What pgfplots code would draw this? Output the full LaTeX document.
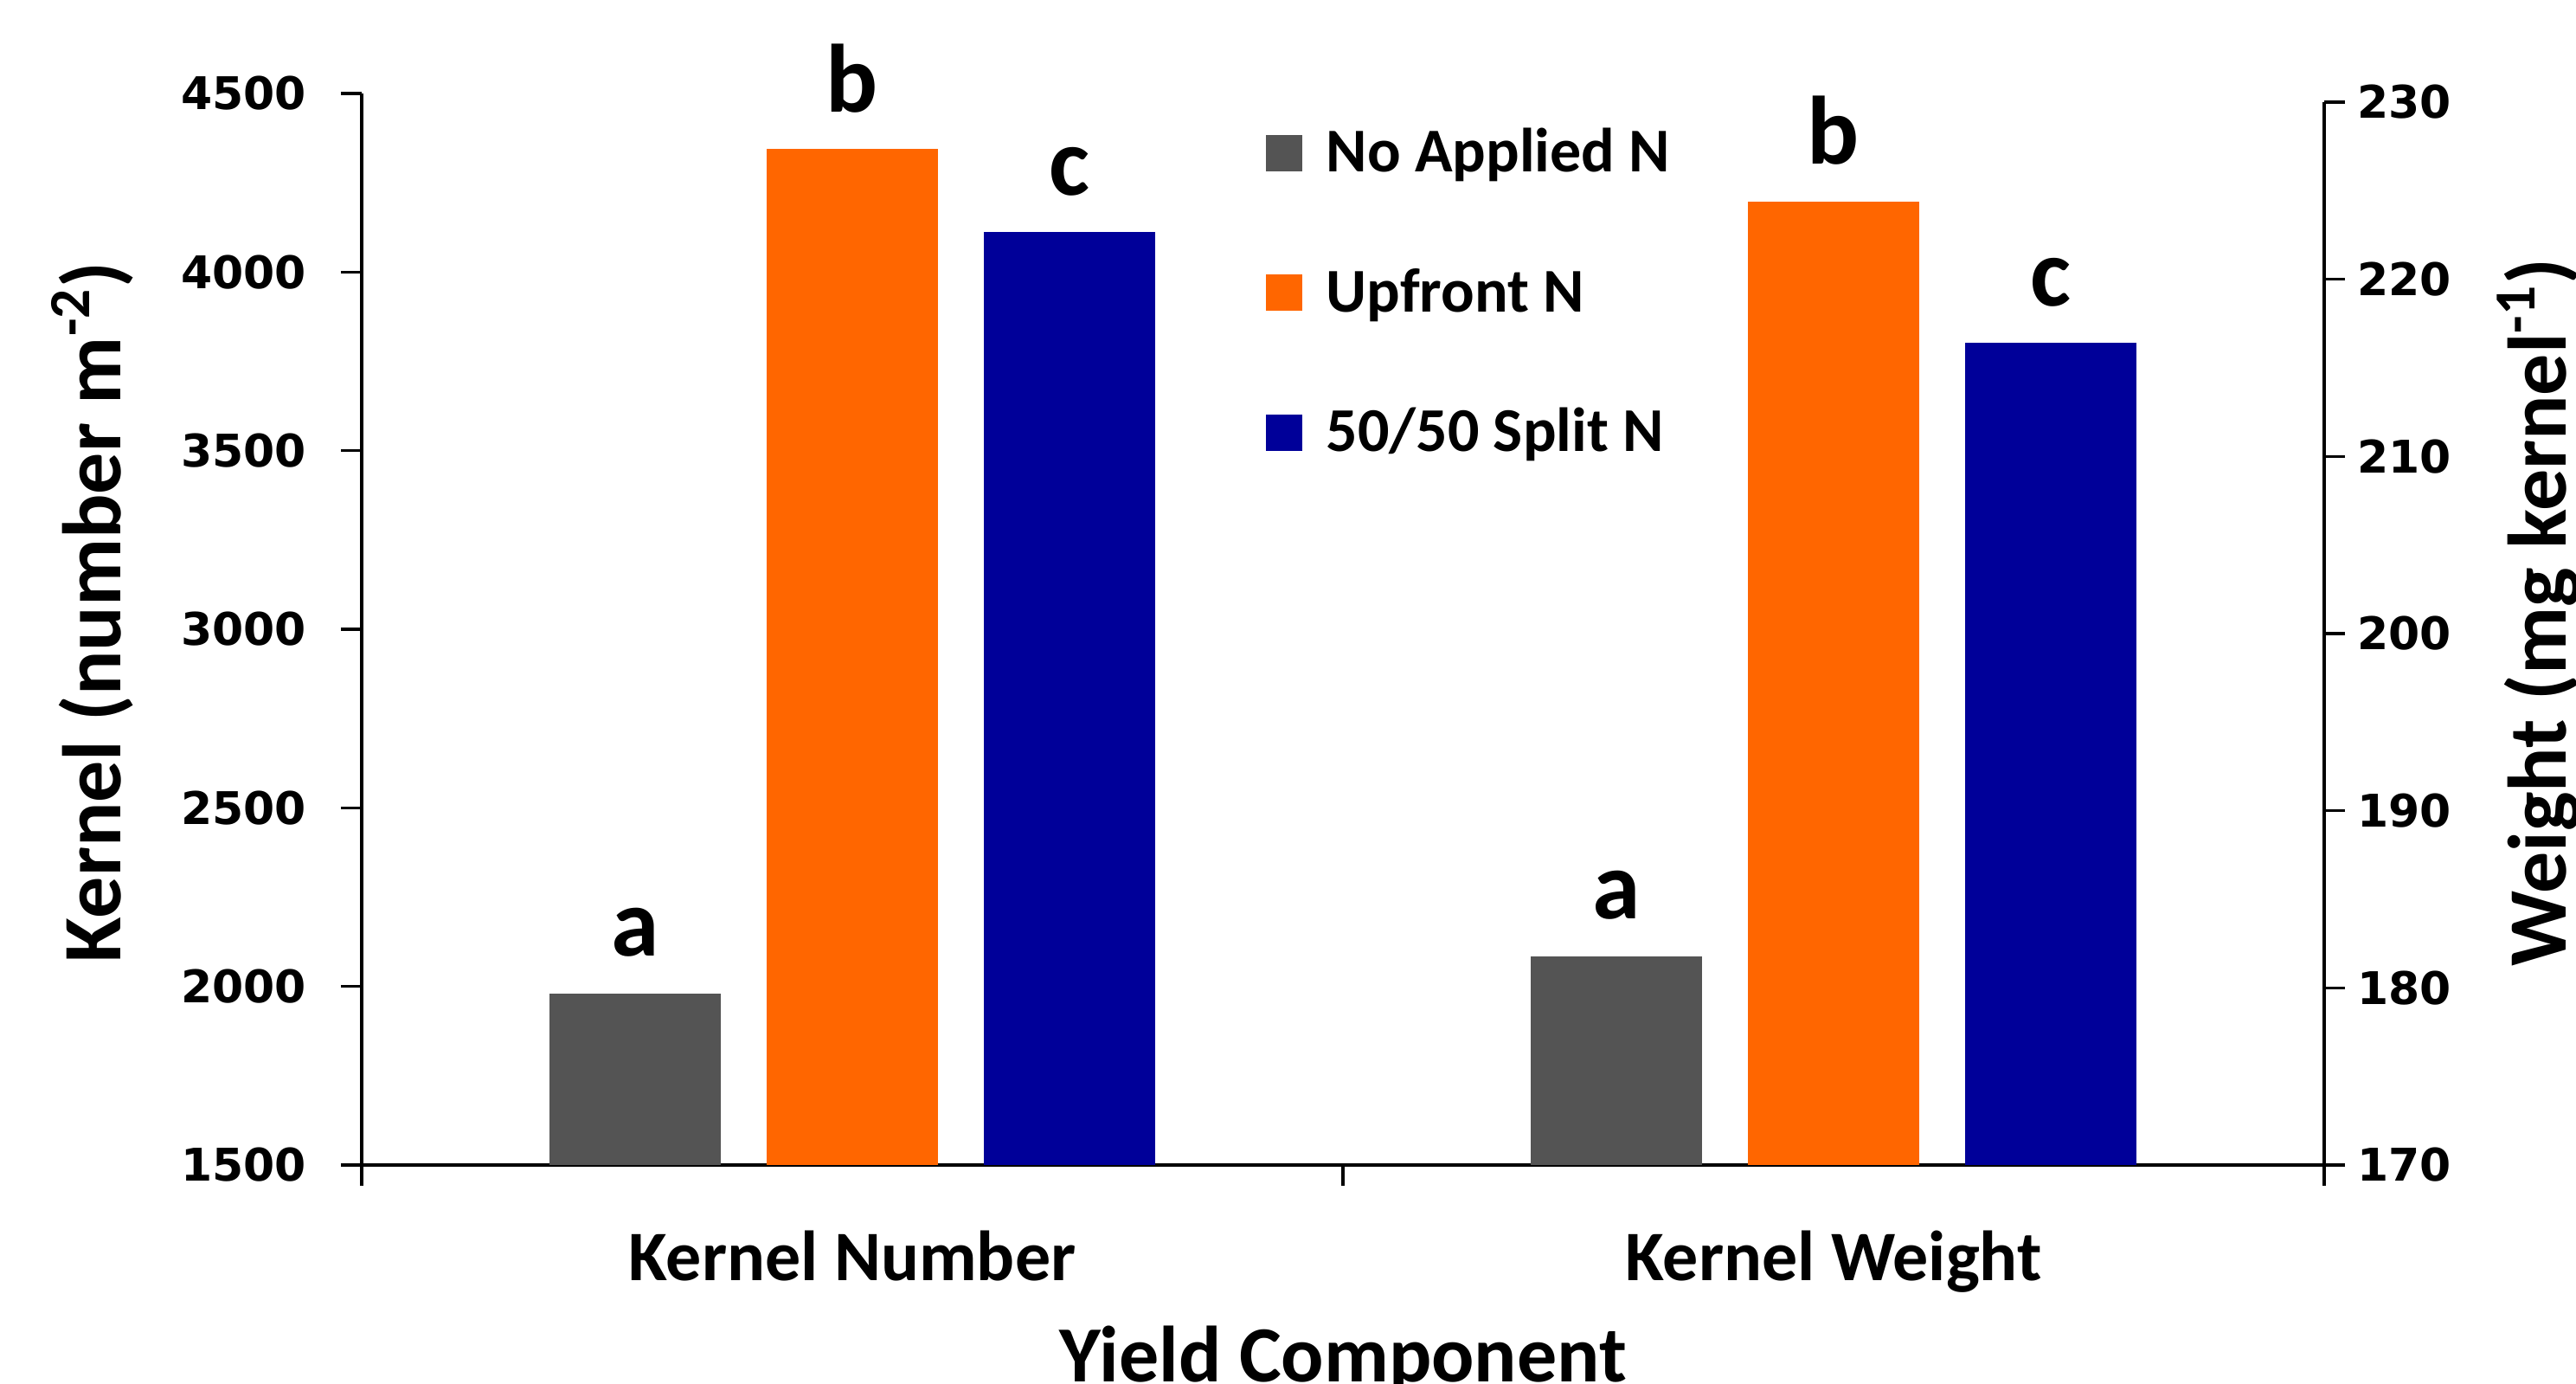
\documentclass[border=0pt]{standalone}
\usepackage{pgfplots}
\pgfplotsset{compat=1.18}
\usepackage{fontspec}
\setmainfont{Carlito}
\newfontfamily\tickfont{DejaVu Sans}

\definecolor{noN}{RGB}{84,84,84}
\definecolor{upN}{RGB}{255,102,0}
\definecolor{splitN}{RGB}{0,0,153}

\begin{document}
\begin{tikzpicture}
\useasboundingbox (-104.5pt,-63pt) rectangle (639.75pt,336.5pt);

% left axis: kernel number
\begin{axis}[
    scale only axis,
    width=567pt, height=309.5pt,
    at={(0,0)}, anchor=south west,
    xmin=-0.5, xmax=1.5,
    ymin=1500, ymax=4500,
    axis x line*=bottom, axis y line*=left,
    axis line style={line width=1pt},
    every tick/.style={black, line width=0.8pt},
    tick align=outside,
    major tick length=6pt,
    ytick={1500,2000,...,4500},
    xtick={-0.5,0.5,1.5}, xticklabels={},
    extra x ticks={0,1},
    extra x tick labels={Kernel Number, Kernel Weight},
    extra x tick style={major tick length=0pt,
        xticklabel style={yshift=-15.5pt}},
    xticklabel style={font=\bfseries\fontsize{20.5}{20.5}\selectfont},
    /pgf/number format/assume math mode=true,
    /pgf/number format/1000 sep={},
    scaled y ticks=false,
    yticklabel style={font=\tickfont\bfseries\fontsize{13}{13}\selectfont, xshift=-6.5pt},
    ylabel={Kernel (number m\textsuperscript{-2})},
    every axis y label/.style={at={(axis description cs:-0.1226,0.516)}, rotate=90, anchor=base,
        font=\bfseries\fontsize{24}{24}\selectfont},
    xlabel={Yield Component},
    every axis x label/.style={at={(axis description cs:0.5,0)}, anchor=base, yshift=-62.5pt,
        font=\bfseries\fontsize{23}{23}\selectfont},
    ybar, bar width=0.1745,
    nodes near coords,
    point meta=explicit symbolic,
    every node near coord/.append style={font=\bfseries\fontsize{28}{28}\selectfont, black, yshift=7pt},
    legend image code/.code={\fill[#1] (0pt,-5.25pt) rectangle (10.5pt,5.25pt);},
    legend cell align=left,
    legend style={draw=none, fill=none, at={(axis description cs:0.455,0.981)}, anchor=north west,
        font=\bfseries\fontsize{18}{18}\selectfont, row sep=22.3pt, column sep=5pt},
]
\addplot[fill=noN, draw=none, bar shift=-0.2212] coordinates {(0,1980) [a]};
\addplot[fill=upN, draw=none, bar shift=0] coordinates {(0,4344) [b]};
\addplot[fill=splitN, draw=none, bar shift=0.2212] coordinates {(0,4112) [c]};
\legend{No Applied N, Upfront N, 50/50 Split N}
\end{axis}

% right axis: kernel weight
\begin{axis}[
    scale only axis,
    width=567pt, height=307pt,
    at={(0,0)}, anchor=south west,
    xmin=-0.5, xmax=1.5,
    ymin=170, ymax=230,
    axis x line=none, axis y line*=right,
    axis line style={line width=1pt},
    every tick/.style={black, line width=0.8pt},
    tick align=outside,
    major tick length=6pt,
    ytick={170,180,...,230},
    /pgf/number format/assume math mode=true,
    yticklabel style={font=\tickfont\bfseries\fontsize{13}{13}\selectfont},
    ylabel={Weight (mg kernel\textsuperscript{-1})},
    every axis y label/.style={at={(axis description cs:1.1234,0.52)}, rotate=90, anchor=base,
        font=\bfseries\fontsize{24}{24}\selectfont},
    ybar, bar width=0.1745,
    nodes near coords,
    point meta=explicit symbolic,
    every node near coord/.append style={font=\bfseries\fontsize{28}{28}\selectfont, black, yshift=7pt},
]
\addplot[fill=noN, draw=none, bar shift=-0.2212] coordinates {(1,181.8) [a]};
\addplot[fill=upN, draw=none, bar shift=0] coordinates {(1,224.4) [b]};
\addplot[fill=splitN, draw=none, bar shift=0.2212] coordinates {(1,216.4) [c]};
\end{axis}
\end{tikzpicture}
\end{document}
